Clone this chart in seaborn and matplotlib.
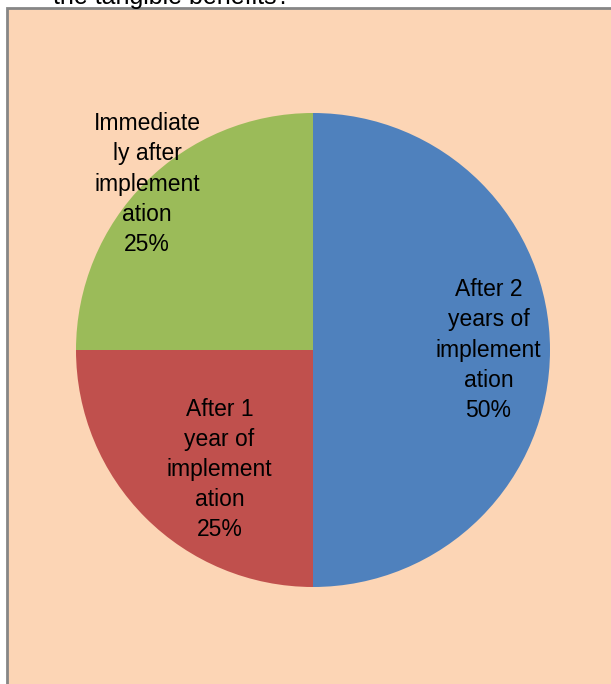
import numpy as np
import matplotlib
matplotlib.use("Agg")
import matplotlib.pyplot as plt
from matplotlib.patches import Rectangle
import seaborn as sns

# data
categories = ["After 2 years of implementation",
              "After 1 year of implementation",
              "Immediately after implementation"]
shares = [50, 25, 25]
label_texts = ["After 2\nyears of\nimplement\nation\n50%",
               "After 1\nyear of\nimplement\nation\n25%",
               "Immediate\nly after\nimplement\nation\n25%"]
colors = ["#4F81BD", "#C0504D", "#9BBB59"]

# label placement (radius fraction, angle in degrees)
label_radius = [0.74, 0.64, 0.99]
label_angle = [0, 232, 135]

sns.set_style("white")
plt.rcParams['font.family'] = ['Liberation Sans', 'DejaVu Sans']
plt.rcParams['text.color'] = 'black'

W, H = 611, 684
fig = plt.figure(figsize=(W / 100, H / 100), dpi=100)
fig.patch.set_facecolor("white")

# chart frame
frame = Rectangle((7 / W, -0.1), 1.2, 1 - 8 / H + 0.1, transform=fig.transFigure,
                  facecolor="#FCD5B5", edgecolor="#868686", linewidth=2, zorder=-5)
fig.patches.append(frame)

# cut-off question text at top
fig.text(53 / W, 1 - 4 / H, "the tangible benefits?", fontsize=18, color="black",
         va="baseline", ha="left")

cx, cy, r = 313, 350, 237
ax = fig.add_axes([(cx - r) / W, (H - cy - r) / H, 2 * r / W, 2 * r / H])
ax.set_facecolor("none")
ax.set_zorder(2)
wedges, _ = ax.pie(shares, colors=colors, startangle=90, counterclock=False,
                   radius=1, wedgeprops=dict(linewidth=0))
ax.set_xlim(-1, 1)
ax.set_ylim(-1, 1)
ax.set_aspect("equal")
ax.axis("off")

for txt, rad, ang in zip(label_texts, label_radius, label_angle):
    a = np.deg2rad(ang)
    ax.text(rad * np.cos(a), rad * np.sin(a), txt, ha="center", va="center",
            fontsize=16.5, linespacing=1.4, color="black")

fig.savefig("out.png", dpi=100)
